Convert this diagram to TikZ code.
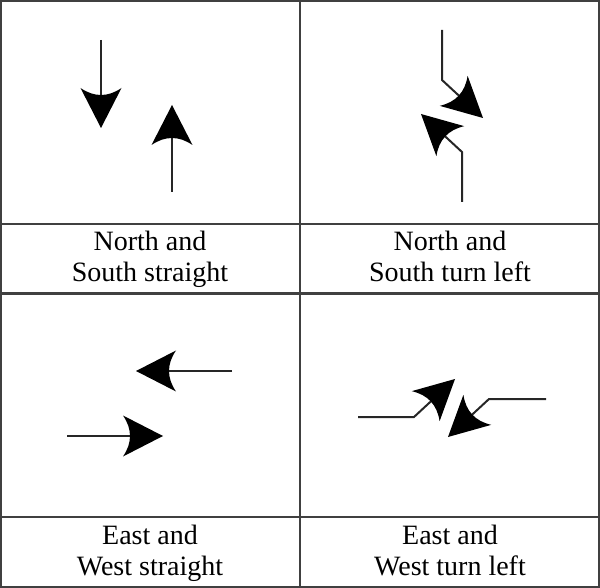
\documentclass[tikz,border=0pt]{standalone}
\usepackage{fontspec}
\setmainfont{Liberation Serif}
\usepackage{tikz}
\usetikzlibrary{arrows.meta}

% filled head with a hollow back
\pgfdeclarearrow{
  name = Cusp,
  parameters = {\the\pgfarrowlength,\the\pgfarrowwidth,\the\pgfarrowinset},
  setup code = {
    \pgfarrowssettipend{0pt}
    \pgfarrowssetlineend{-.5\pgfarrowlength}
    \pgfarrowssetbackend{-\pgfarrowlength}
    \pgfarrowssavethe\pgfarrowlength
    \pgfarrowssavethe\pgfarrowwidth
    \pgfarrowssavethe\pgfarrowinset
  },
  drawing code = {
    \pgfpathmoveto{\pgfqpoint{0pt}{0pt}}
    \pgfpathlineto{\pgfpoint{-\pgfarrowlength}{.5\pgfarrowwidth}}
    \pgfpathquadraticcurveto{\pgfpoint{2\pgfarrowinset-\pgfarrowlength}{0pt}}{\pgfpoint{-\pgfarrowlength}{-.5\pgfarrowwidth}}
    \pgfpathclose
    \pgfusepathqfill
  },
  defaults = {length=20pt, width=20.5pt, inset=3.5pt}
}

\tikzset{
  frame/.style={draw=black!75, line width=1.3pt},
  flow/.style={draw=black!85, line width=1pt, -{Cusp[black]}},
  caption/.style={align=center, font=\fontsize{14}{15.5}\selectfont, text depth=3pt, inner sep=0pt}
}

\begin{document}
\begin{tikzpicture}[x=0.5pt, y=-0.5pt]
    \useasboundingbox (0,0) rectangle (600,588);
    % grid
    \draw[frame] (1,1) rectangle (599,587);
    \draw[frame] (300,1) -- (300,587);
    \draw[frame] (1,224) -- (599,224);
    \draw[frame] (1,293.5) -- (599,293.5);
    \draw[frame] (1,517) -- (599,517);

    % north and south straight
    \coordinate (nsS) at (101,40);  \coordinate (nsStip) at (101,128);
    \coordinate (nsN) at (172,192); \coordinate (nsNtip) at (172,105);
    \draw[flow] (nsS) -- (nsStip);
    \draw[flow] (nsN) -- (nsNtip);

    % north and south turn left
    \coordinate (nlS) at (442,30);  \coordinate (nlSbend) at (442,80);  \coordinate (nlStip) at (483,118);
    \coordinate (nlN) at (462,202); \coordinate (nlNbend) at (462,152); \coordinate (nlNtip) at (421,114);
    \draw[flow] (nlS) -- (nlSbend) -- (nlStip);
    \draw[flow] (nlN) -- (nlNbend) -- (nlNtip);

    % east and west straight
    \coordinate (ewW) at (232,371); \coordinate (ewWtip) at (136,371);
    \coordinate (ewE) at (67,436);  \coordinate (ewEtip) at (163,436);
    \draw[flow] (ewW) -- (ewWtip);
    \draw[flow] (ewE) -- (ewEtip);

    % east and west turn left
    \coordinate (elE) at (358,417); \coordinate (elEbend) at (414,417); \coordinate (elEtip) at (455,379);
    \coordinate (elW) at (546,399); \coordinate (elWbend) at (489,399); \coordinate (elWtip) at (448,437);
    \draw[flow] (elE) -- (elEbend) -- (elEtip);
    \draw[flow] (elW) -- (elWbend) -- (elWtip);

    % captions
    \node[caption] (nsText) at (150,259) {North and\\South straight};
    \node[caption] (nlText) at (450,259) {North and\\South turn left};
    \node[caption] (ewText) at (150,553) {East and\\West straight};
    \node[caption] (elText) at (450,553) {East and\\West turn left};
\end{tikzpicture}
\end{document}
